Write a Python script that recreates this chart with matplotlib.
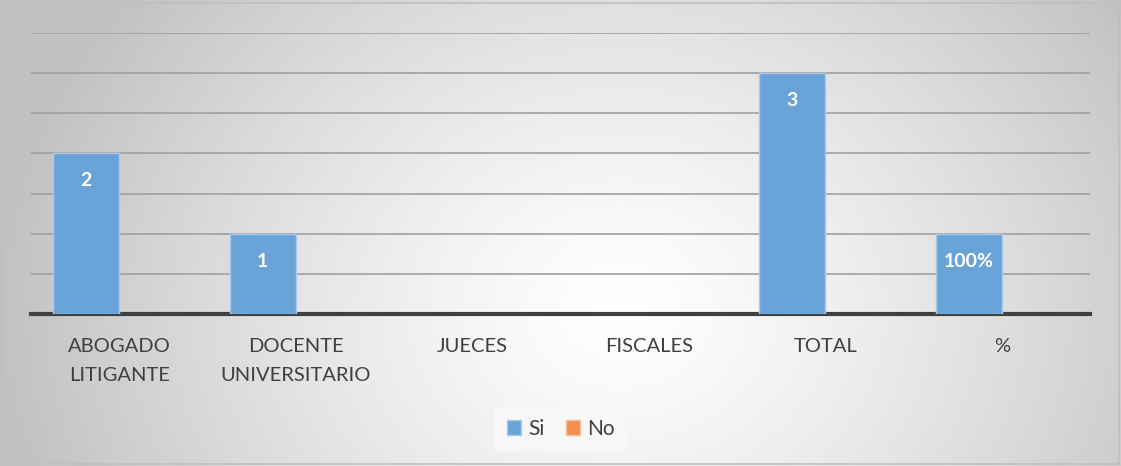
import numpy as np
import matplotlib.pyplot as plt
from matplotlib.patches import Rectangle, Patch

categories = ['ABOGADO\nLITIGANTE', 'DOCENTE\nUNIVERSITARIO', 'JUECES', 'FISCALES', 'TOTAL', '%']
si_values = [2, 1, 0, 0, 3, 1]
no_values = [0, 0, 0, 0, 0, 0]
si_labels = ['2', '1', '', '', '3', '100%']

plt.rcParams['font.family'] = ['Lato', 'DejaVu Sans']

W, H = 1121, 466
fig = plt.figure(figsize=(W / 100, H / 100), dpi=100)

# radial gradient background
bg = fig.add_axes([0, 0, 1, 1], zorder=0)
yy, xx = np.mgrid[0:H, 0:W]
r = np.sqrt(((xx - 620) / 600.0) ** 2 + ((yy - 310) / 500.0) ** 2)
val = 1.0 - 0.23 * np.clip(r, 0, 1.2) ** 1.3
val = np.clip(val, 0.76, 1.0)
bg.imshow(np.dstack([val, val, val]), aspect='auto', extent=[0, W, H, 0])
bg.add_patch(Rectangle((1, 3), W - 3, H - 5, fill=False, ec='#bfbfbf', lw=1.2))
bg.set_xlim(0, W)
bg.set_ylim(H, 0)
bg.axis('off')

ax = fig.add_axes([31 / W, 1 - 314 / H, (1090 - 31) / W, (314 - 33) / H], zorder=1)
ax.patch.set_alpha(0)

si_color, si_edge = '#6aa3d8', '#a9cbea'
no_color, no_edge = '#f0914f', '#f6bf98'

x = np.arange(len(categories))
w = 0.374
b1 = ax.bar(x - w / 2, si_values, w, color=si_color, edgecolor=si_edge, lw=1, zorder=3)
b2 = ax.bar(x + w / 2, no_values, w, color=no_color, edgecolor=no_edge, lw=1, zorder=3)
for rect in list(b1) + list(b2):
    if rect.get_height() == 0:
        rect.set_visible(False)

for rect, lab in zip(b1, si_labels):
    if lab:
        ax.text(rect.get_x() + rect.get_width() / 2, rect.get_height() - 0.34, lab,
                ha='center', va='center', color='white', fontsize=14, fontweight='bold', zorder=4)

ax.set_xlim(-0.5, len(categories) - 0.5)
ax.set_ylim(0, 3.5)
ax.set_yticks(np.arange(0, 3.51, 0.5))
ax.yaxis.grid(True, color='#a0a0a0', lw=1.2, zorder=0)
ax.set_axisbelow(True)
ax.tick_params(axis='y', left=False, labelleft=False)
ax.tick_params(axis='x', bottom=False, pad=14)
ax.set_xticks(x)
ax.set_xticklabels(categories, fontsize=14.5, color='#404040', linespacing=1.85)
for s in ['top', 'right', 'left']:
    ax.spines[s].set_visible(False)
ax.spines['bottom'].set_color('#404040')
ax.spines['bottom'].set_linewidth(3)

handles = [Patch(facecolor=si_color, edgecolor=si_edge, label='Si'),
           Patch(facecolor=no_color, edgecolor=no_edge, label='No')]
leg = fig.legend(handles=handles, loc='center', bbox_to_anchor=(561 / W, 1 - 429 / H), ncol=2,
                 frameon=True, fontsize=15, handlelength=0.7, handleheight=0.7, handletextpad=0.35,
                 columnspacing=1.0, borderpad=0.6)
leg.get_frame().set_facecolor('#f7f7f7')
leg.get_frame().set_edgecolor('none')
leg.get_frame().set_alpha(1)
for t in leg.get_texts():
    t.set_color('#404040')

fig.savefig('out.png', dpi=100)
